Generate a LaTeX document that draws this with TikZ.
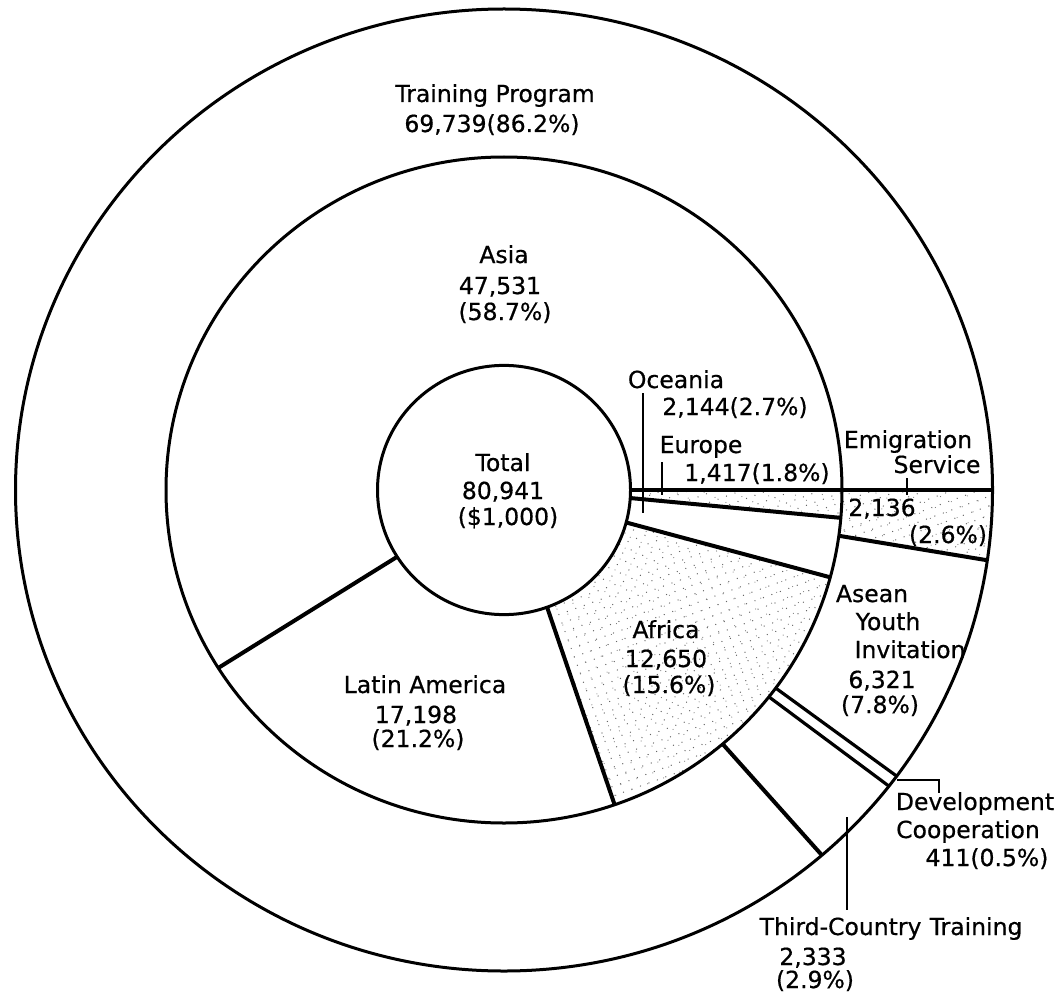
\documentclass[tikz,border=0pt]{standalone}
\usepackage{fontspec}
\setmainfont{DejaVu Sans}[FakeBold=0.6]
\usetikzlibrary{patterns.meta}
\begin{document}
\begin{tikzpicture}[x=1pt,y=-1pt,
  ringline/.style={line width=3pt},
  divider/.style={line width=4pt},
  thindivider/.style={line width=3.2pt},
  pointer/.style={line width=1.3pt},
  stippleA/.style={pattern={Dots[distance=9pt,radius=0.7pt,angle=20]},pattern color=black!60},
  stippleB/.style={pattern={Dots[distance=12pt,radius=0.6pt,angle=65,xshift=4pt]},pattern color=black!50},
  lbl/.style={anchor=base,inner sep=0pt,font=\fontsize{23.5}{28}\selectfont},
]
\useasboundingbox (0,0) rectangle (1059,1000);
\coordinate (C) at (504,490);

% ---------- named points on the rings ----------
% inner ellipse 126.5 x 124.6, middle 338 x 333, outer 488.5 x 481
\path (C) ++(0:126.5 and 124.6)   coordinate (a0i);
\path (C) ++(0:488.5 and 481)     coordinate (a0o);
\path (C) ++(3.7:126.5 and 124.6) coordinate (a1i);
\path (C) ++(4.8:338 and 333)     coordinate (a1o);
\path (C) ++(15.1:126.5 and 124.6) coordinate (a2i);
\path (C) ++(15.2:338 and 333)    coordinate (a2o);
\path (C) ++(70.1:126.5 and 124.6) coordinate (a3i);
\path (C) ++(70.9:338 and 333)    coordinate (a3o);
\path (C) ++(147.6:126.5 and 124.6) coordinate (a4i);
\path (C) ++(147.7:338 and 333)   coordinate (a4o);
\path (C) ++(7.9:338 and 333)     coordinate (b1i);
\path (C) ++(8.4:488.5 and 481)   coordinate (b1o);
\path (C) ++(36.5:338 and 333)    coordinate (b2i);
\path (C) ++(36.5:488.5 and 481)  coordinate (b2o);
\path (C) ++(38.4:338 and 333)    coordinate (b3i);
\path (C) ++(38.0:488.5 and 481)  coordinate (b3o);
\path (C) ++(49.7:338 and 333)    coordinate (b4i);
\path (C) ++(49.4:488.5 and 481)  coordinate (b4o);
\path (C) ++(0:338 and 333)       coordinate (m0);

% ---------- stippled slices ----------
\foreach \st in {stippleA,stippleB}{
  % Europe
  \fill[\st] (a0i) -- (m0) arc[start angle=0,end angle=4.8,x radius=338,y radius=333]
     -- (a1i) arc[start angle=3.7,end angle=0,x radius=126.5,y radius=124.6] -- cycle;
  % Africa
  \fill[\st] (a2i) -- (a2o) arc[start angle=15.2,end angle=70.9,x radius=338,y radius=333]
     -- (a3i) arc[start angle=70.1,end angle=15.1,x radius=126.5,y radius=124.6] -- cycle;
  % Emigration Service
  \fill[\st] (m0) -- (a0o) arc[start angle=0,end angle=8.4,x radius=488.5,y radius=481]
     -- (b1i) arc[start angle=7.9,end angle=0,x radius=338,y radius=333] -- cycle;
}

% ---------- rings ----------
\draw[ringline] (C) ellipse[x radius=488.5,y radius=481];
\draw[ringline] (C) ellipse[x radius=338,y radius=333];
\draw[ringline] (C) ellipse[x radius=126.5,y radius=124.6];

% ---------- dividers ----------
\draw[divider] (a0i) -- (a0o);
\draw[divider] (a1i) -- (a1o);
\draw[divider] (a2i) -- (a2o);
\draw[divider] (a3i) -- (a3o);
\draw[divider] (a4i) -- (a4o);
\draw[divider] (b1i) -- (b1o);
\draw[thindivider] (b2i) -- (b2o);
\draw[thindivider] (b3i) -- (b3o);
\draw[divider] (b4i) -- (b4o);

% ---------- pointers ----------
\coordinate (oceT) at (643,393); \coordinate (oceB) at (643,513);
\coordinate (eurT) at (662,462); \coordinate (eurB) at (662,495);
\coordinate (emiT) at (907,478); \coordinate (emiB) at (907,495);
\coordinate (devA) at (897,780); \coordinate (devB) at (939,780); \coordinate (devC) at (939,793);
\coordinate (thrT) at (847,817); \coordinate (thrB) at (847,910);
\draw[pointer] (oceT) -- (oceB);
\draw[pointer] (eurT) -- (eurB);
\draw[pointer] (emiT) -- (emiB);
\draw[pointer] (devA) -- (devB) -- (devC);
\draw[pointer] (thrT) -- (thrB);

% ---------- labels ----------
\node[lbl] (t1)  at (495,102) {Training Program};
\node[lbl] (t2)  at (492,132) {69,739(86.2\%)};
\node[lbl] (t3)  at (504,263) {Asia};
\node[lbl] (t4)  at (500,294) {47,531};
\node[lbl] (t5)  at (505,320) {(58.7\%)};
\node[lbl] (t6)  at (503,471) {Total};
\node[lbl] (t7)  at (503,499) {80,941};
\node[lbl] (t8)  at (508,525) {(\$1,000)};
\node[lbl] (t9)  at (676,388) {Oceania};
\node[lbl] (t10) at (735,415) {2,144(2.7\%)};
\node[lbl] (t11) at (701,453) {Europe};
\node[lbl] (t12) at (757,481) {1,417(1.8\%)};
\node[lbl] (t13) at (908,448) {Emigration};
\node[lbl] (t14) at (937,473) {Service};
\node[lbl] (t15) at (882,516) {2,136};
\node[lbl] (t16) at (948,543) {(2.6\%)};
\node[lbl] (t17) at (872,602) {Asean};
\node[lbl] (t18) at (888,630) {Youth};
\node[lbl] (t19) at (910,658) {Invitation};
\node[lbl] (t20) at (882,688) {6,321};
\node[lbl] (t21) at (880,713) {(7.8\%)};
\node[lbl] (t22) at (666,638) {Africa};
\node[lbl] (t23) at (666,667) {12,650};
\node[lbl] (t24) at (669,693) {(15.6\%)};
\node[lbl] (t25) at (425,693) {Latin America};
\node[lbl] (t26) at (416,723) {17,198};
\node[lbl] (t27) at (418,747) {(21.2\%)};
\node[lbl] (t28) at (975,810) {Development};
\node[lbl] (t29) at (968,838) {Cooperation};
\node[lbl] (t30) at (987,866) {411(0.5\%)};
\node[lbl] (t31) at (891,935) {Third-Country\hspace{0.35em}Training};
\node[lbl] (t32) at (813,965) {2,333};
\node[lbl] (t33) at (815,988) {(2.9\%)};
\end{tikzpicture}
\end{document}
